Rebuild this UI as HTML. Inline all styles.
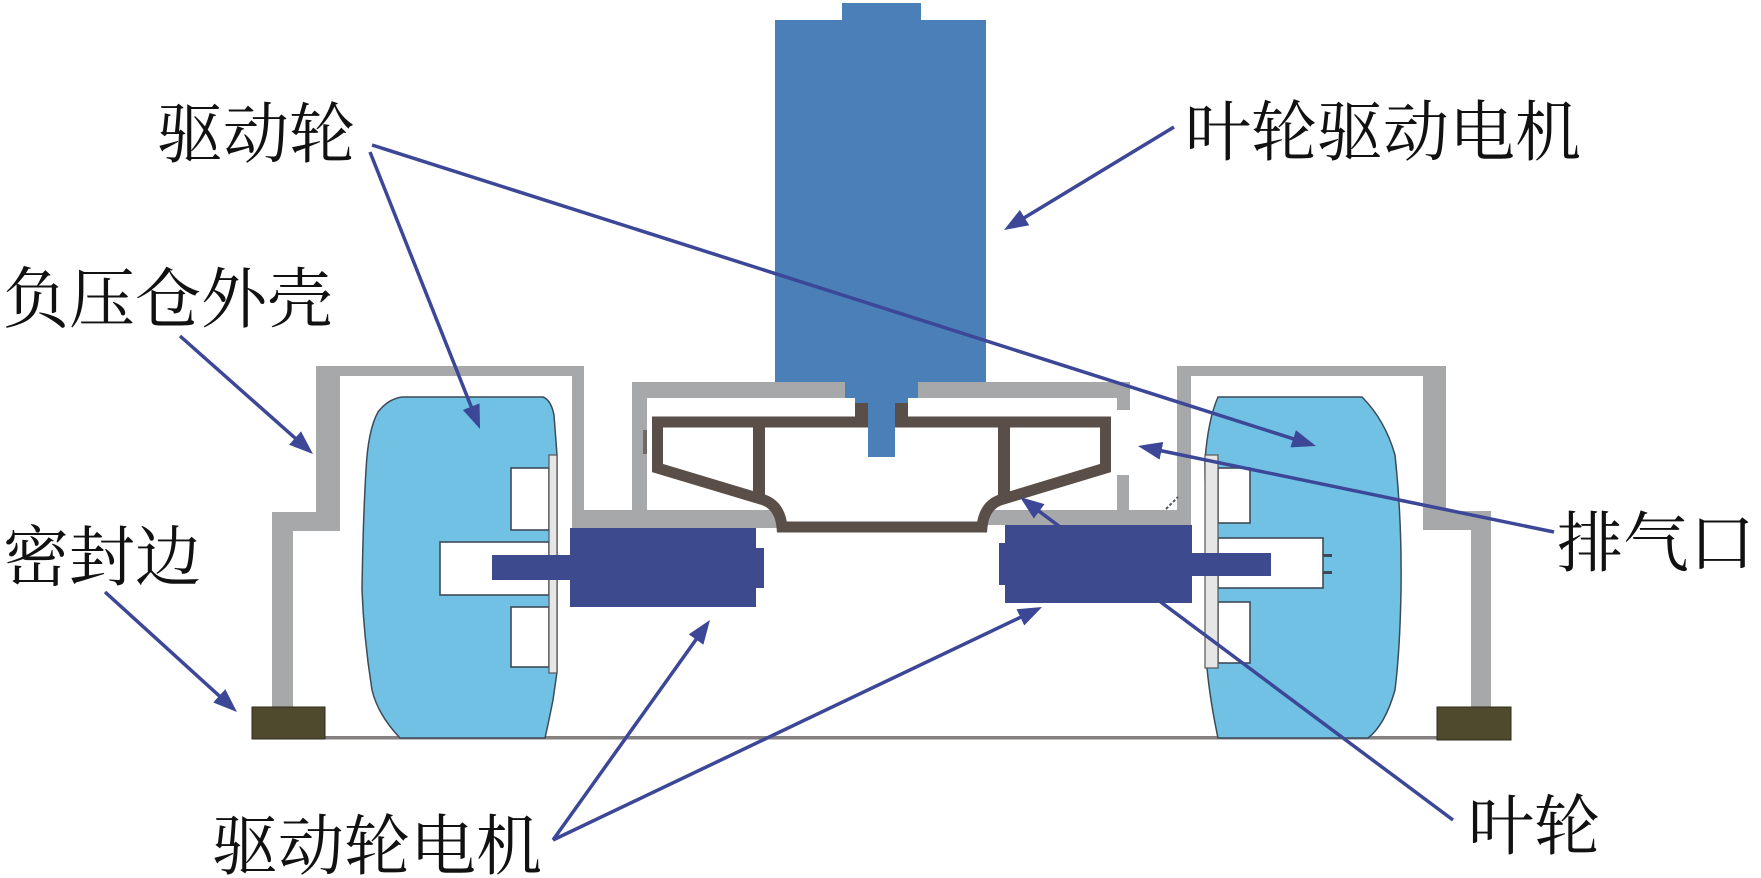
<!DOCTYPE html>
<html><head><meta charset="utf-8"><style>
html,body{margin:0;padding:0;background:#fff;}
svg{display:block;}
text{font-family:"Liberation Serif","Noto Serif CJK SC","Noto Sans CJK SC",serif;font-size:66px;fill:#111;}
</style></head><body>
<svg width="1761" height="878" viewBox="0 0 1761 878" xmlns="http://www.w3.org/2000/svg">
<defs>
<marker id="ah" markerUnits="userSpaceOnUse" markerWidth="24" markerHeight="18" refX="12" refY="9" orient="auto">
<path d="M0,0 L24,9 L0,18 z" fill="#3c4797"/>
</marker>
</defs>
<rect width="1761" height="878" fill="#fff"/>

<!-- bottom ground line -->
<rect x="325" y="736" width="1112" height="3.5" fill="#858080"/>

<!-- housing (gray) -->
<g fill="#a6a8aa">
<!-- left box -->
<rect x="316" y="366" width="268" height="10"/>
<rect x="316" y="366" width="24" height="165"/>
<rect x="272" y="512" width="68" height="19"/>
<rect x="272" y="512" width="21" height="196"/>
<rect x="572" y="366" width="12" height="162"/>
<rect x="572" y="510" width="206" height="18"/>
<!-- chamber -->
<rect x="632" y="382" width="498" height="16"/>
<rect x="632" y="382" width="15" height="130"/>
<rect x="1117" y="382" width="13" height="28"/>
<rect x="1117" y="475" width="12" height="37"/>
<rect x="986" y="510" width="205" height="15"/>
<!-- right box -->
<rect x="1177" y="366" width="14" height="159"/>
<rect x="1177" y="366" width="269" height="10"/>
<rect x="1423" y="366" width="23" height="164"/>
<rect x="1423" y="511" width="68" height="19"/>
<rect x="1471" y="511" width="20" height="197"/>
</g>
<rect x="643" y="430" width="4" height="24" fill="#6e6a68"/>
<line x1="1166" y1="509" x2="1178" y2="497" stroke="#555" stroke-width="2" stroke-dasharray="3,2"/>

<!-- seal pads -->
<rect x="252" y="707" width="73" height="32" fill="#4f4a2d" stroke="#2e2b1c" stroke-width="1"/>
<rect x="1437" y="707" width="74" height="33" fill="#4f4a2d" stroke="#2e2b1c" stroke-width="1"/>

<!-- wheels -->
<path d="M402 397 L543 397 Q551 400 554 415 L557 455 L557 672 L553 700 Q548 725 545 738 L400 738 Q378 715 372 690 Q364 640 362 590 Q363 520 366 470 Q368 430 378 412 Q388 399 402 397 Z" fill="#70c1e4" stroke="#3d4b58" stroke-width="1.5"/>
<path d="M1218 397 L1362 397 Q1385 420 1395 455 Q1402 520 1401 590 Q1400 650 1395 690 Q1385 725 1368 738 L1218 738 Q1210 700 1207 668 L1205 460 Q1208 420 1218 397 Z" fill="#70c1e4" stroke="#3d4b58" stroke-width="1.5"/>
<g fill="#fff" stroke="#3d4b58" stroke-width="1.6">
<rect x="511" y="468" width="38" height="62"/>
<rect x="440" y="542" width="109" height="53"/>
<rect x="511" y="607" width="38" height="60"/>
<rect x="1218" y="468" width="32" height="55"/>
<rect x="1218" y="538" width="105" height="50"/>
<rect x="1218" y="602" width="32" height="61"/>
</g>
<g fill="#e6e6e6" stroke="#555" stroke-width="1.2">
<rect x="549" y="455" width="8" height="218"/>
<rect x="1205" y="455" width="13" height="213"/>
</g>
<g fill="#3d4b58">
<rect x="1323" y="554" width="9" height="3"/>
<rect x="1323" y="571" width="9" height="3"/>
</g>

<!-- impeller -->
<path d="M657.5 422 L1105.5 422 L1105.5 468 L1000 500 Q984 506 982 527 L782 527 Q780 506 764 500 L657.5 468 Z" fill="none" stroke="#5a4f48" stroke-width="11" stroke-linejoin="miter"/>
<rect x="753" y="422" width="12" height="78" fill="#5a4f48"/>
<rect x="998" y="422" width="12" height="76" fill="#5a4f48"/>
<rect x="855" y="403" width="53" height="17" fill="#5a4f48"/>

<!-- top motor -->
<g fill="#4a80b7">
<rect x="842" y="3" width="79" height="18"/>
<rect x="775" y="20" width="211" height="362"/>
<rect x="845" y="381" width="73" height="17"/>
<rect x="855" y="397" width="53" height="6"/>
<rect x="868" y="403" width="27" height="54"/>
</g>

<!-- impeller leader (behind right motor) -->
<line x1="1453" y1="820" x2="1029.6" y2="504.2" stroke="#3c4797" stroke-width="3.5" marker-end="url(#ah)"/>

<!-- drive motors -->
<g fill="#3e4a8e">
<rect x="570" y="528" width="186" height="79"/>
<rect x="755" y="548" width="9" height="40"/>
<rect x="492" y="555" width="79" height="25"/>
<rect x="1005" y="525" width="187" height="78"/>
<rect x="999" y="543" width="7" height="42"/>
<rect x="1191" y="553" width="80" height="23"/>
</g>

<!-- arrows -->
<g stroke="#3c4797" stroke-width="3.5" marker-end="url(#ah)" fill="none">
<line x1="370" y1="152" x2="475.6" y2="417.8"/>
<line x1="372" y1="145" x2="1304.6" y2="442.4"/>
<line x1="1174" y1="127" x2="1014.3" y2="223.8"/>
<line x1="180" y1="336" x2="304" y2="446"/>
<line x1="105" y1="592" x2="228.1" y2="703.9"/>
<line x1="1554" y1="532" x2="1149.7" y2="448.4"/>
<line x1="553" y1="840" x2="703" y2="629.8"/>
<line x1="553" y1="840" x2="1031.2" y2="612.2"/>
</g>

<!-- labels -->
<text x="157" y="157">驱动轮</text>
<text x="1185" y="155">叶轮驱动电机</text>
<text x="3" y="322">负压仓外壳</text>
<text x="3" y="580">密封边</text>
<text x="1557" y="566">排气口</text>
<text x="212" y="869">驱动轮电机</text>
<text x="1468" y="849">叶轮</text>
</svg>
</body></html>
